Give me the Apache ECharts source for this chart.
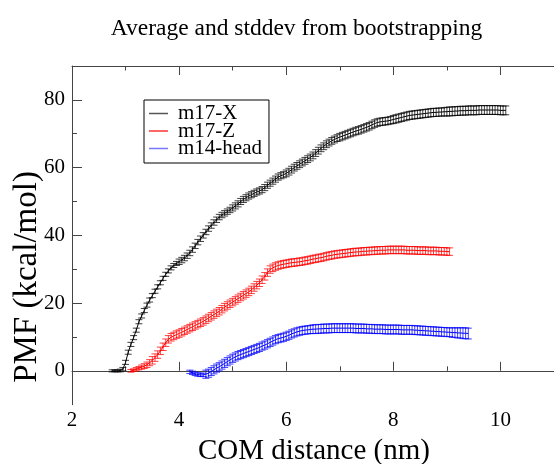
<!DOCTYPE html>
<html>
<head>
<meta charset="utf-8">
<script src="https://cdn.jsdelivr.net/npm/echarts@6/dist/echarts.min.js"></script>
<style>html,body{margin:0;padding:0;background:#fff}#c{width:554px;height:464px}</style>
</head>
<body>
<div id="c"></div>
<script>
// ---- data ----
const STEP = 0.05;
const seriesNames = ['m17-X', 'm17-Z', 'm14-head'];
const xTicks = [2, 4, 6, 8, 10];
const xMinorTicks = [3, 5, 7, 9];
const yTicks = [0, 20, 40, 60, 80];
const yMinorTicks = [10, 30, 50, 70];

const blackX0 = 2.75;
const blackY = [
 0,0,0,0.1,0.5, 2.5,5.5,7.8,9.8,12.0,14.5,16.2,17.8,19.4,20.9,22.2,23.5,24.8,26.0,27.3,28.5,29.5,30.4,31.1,31.7,
 32.2,32.7,33.3,34.0,34.8,35.8,36.9,38.0,39.0,40.0,41.0,42.0,42.9,43.8,44.6,45.4,46.0,46.5,47.0,47.5,
 48.1,48.7,49.3,50.0,50.6,51.1,51.6,52.0,52.4,52.8,53.1,53.5,54.1,54.8,55.4,56.0,56.6,57.2,57.6,57.9,
 58.3,58.8,59.4,60.0,60.5,61.0,61.5,62.0,62.5,63.0,63.6,64.3,65.0,65.7,66.3,66.9,67.4,67.9,68.3,68.7,
 69.0,69.3,69.6,69.9,70.2,70.5,70.8,71.0,71.3,71.6,71.9,72.2,72.6,73.0,73.3,73.5,73.6,73.7,73.8,74.0,
 74.2,74.4,74.6,74.8,75.0,75.2,75.4,75.5,75.6,75.7,75.8,75.9,76.0,76.1,76.2,76.3,76.3,76.4,76.4,76.5,
 76.5,76.6,76.6,76.7,76.7,76.8,76.8,76.8,76.9,76.9,76.9,76.9,77.0,77.0,77.0,77.0,77.0,77.0,77.0,77.0,76.9,76.9,76.9
];
const blackErr = [
 0.3,0.3,0.3,0.4,0.5,
 0.6,0.6,0.6,0.6,0.6,0.6,0.6,0.6,0.6,0.6,0.6,0.6,0.6,0.6,0.6,0.6,0.6,0.6,0.6,0.6,
 0.8,0.8,0.8,0.8,0.8,0.8,0.8,0.8,0.8,0.8,0.8,0.8,0.8,0.8,0.8,0.8,0.8,0.8,0.8,0.8,
 0.9,0.9,0.9,0.9,0.9,0.9,0.9,0.9,0.9,0.9,0.9,0.9,0.9,0.9,0.9,0.9,0.9,0.9,0.9,0.9,
 1.0,1.0,1.0,1.0,1.0,1.0,1.0,1.0,1.0,1.0,1.0,1.0,1.0,1.0,1.0,1.0,1.0,1.0,1.0,1.0,
 1.1,1.1,1.1,1.1,1.1,1.1,1.1,1.1,1.1,1.1,1.1,1.1,1.1,1.1,1.1,1.1,1.1,1.1,1.1,1.1,
 1.2,1.2,1.2,1.2,1.2,1.2,1.2,1.2,1.2,1.2,1.2,1.2,1.2,1.2,1.2,1.2,1.2,1.2,1.2,1.2,
 1.3,1.3,1.3,1.3,1.3,1.3,1.3,1.3,1.3,1.3,1.3,1.3,1.3,1.3,1.3,1.3,1.3,1.3,1.3,1.3,1.3,1.3,1.3
];

const redX0 = 3.10;
const redY = [
 0.0,0.2,0.5,0.8,1.1,1.4,1.8,2.4,3.1,3.9,4.8,5.9,7.1,8.3,9.3,9.9,10.3,10.7,
 11.0,11.4,11.8,12.2,12.6,13.0,13.4,13.8,14.2,14.6,15.1,15.6,16.1,16.6,17.1,17.6,18.2,18.8,19.3,19.8,
 20.3,20.8,21.3,21.8,22.3,22.8,23.3,23.9,24.6,25.3,26.0,26.9,27.9,29.0,29.9,30.4,30.8,31.1,31.3,31.5,
 31.6,31.8,31.9,32.0,32.1,32.2,32.3,32.5,32.6,32.8,33.0,33.1,33.3,33.4,33.6,33.8,34.0,34.1,34.3,34.4,
 34.5,34.6,34.7,34.8,34.9,35.0,35.1,35.1,35.2,35.3,35.3,35.4,35.4,35.5,35.5,35.6,35.6,35.6,35.7,35.7,
 35.7,35.7,35.7,35.7,35.7,35.6,35.6,35.6,35.6,35.5,35.5,35.5,35.5,35.4,35.4,35.4,35.4,35.3,35.3,35.3,35.2,35.2
];
const redErr = [
 0.4,0.4,0.5,0.5,0.6,0.7,0.8,0.9,
 1.1,1.1,1.1,1.1,1.1,1.1,1.1,1.1,1.1,1.1,1.1,1.1,1.1,1.1,1.1,1.1,1.1,1.1,1.1,1.1,1.1,1.1,1.1,
 1.1,1.1,1.1,1.1,1.1,1.1,1.1,1.1,1.1,1.1,1.1,1.1,1.1,1.1,1.1,1.1,1.1,1.1,1.1,1.1,1.1,1.1,1.1,
 1.1,1.1,1.1,1.1,1.1,1.1,1.1,1.1,1.1,1.1,1.1,1.1,1.1,1.1,1.1,1.1,1.1,1.1,1.1,1.1,1.1,1.1,
 1.1,1.1,1.1,1.1,1.1,1.1,1.1,1.1,1.1,1.1,1.1,1.1,1.1,1.1,1.1,1.1,1.1,1.1,1.1,1.1,1.1,1.1,
 1.1,1.1,1.1,1.1,1.1,1.1,1.1,1.1,1.1,1.1,1.1,1.1,1.1,1.1,1.1,1.1,1.1,1.1,1.1,1.1,1.1,1.1
];

const blueX0 = 4.20;
const blueY = [
 -0.3,-0.6,-0.9,-1.1,-1.2,-1.2,-1.0,-0.7,-0.2,0.3,0.8,1.2,1.7,2.2,2.7,3.2,
 3.7,4.1,4.5,4.8,5.1,5.4,5.7,6.0,6.3,6.6,6.9,7.3,7.6,8.0,8.4,8.8,9.2,9.5,9.7,9.9,
 10.2,10.5,10.9,11.2,11.5,11.7,11.9,12.0,12.1,12.2,12.3,12.3,12.4,12.4,12.5,12.5,12.5,12.6,12.6,12.6,
 12.6,12.6,12.6,12.6,12.6,12.6,12.5,12.5,12.5,12.5,12.4,12.4,12.4,12.3,12.3,12.3,12.3,12.2,12.2,12.2,
 12.2,12.2,12.2,12.1,12.1,12.1,12.1,12.1,12.0,12.0,11.9,11.9,11.8,11.8,11.7,11.7,11.6,11.6,11.5,11.5,
 11.4,11.4,11.3,11.3,11.2,11.2,11.1,11.1,11.0
];
const blueErr = [
 0.5,0.5,0.5,0.5,0.5,0.5,
 1.2,1.2,1.2,1.2,1.2,1.2,1.2,1.2,1.2,1.2,1.2,1.2,1.2,1.2,1.2,1.2,1.2,1.2,1.2,1.2,
 1.2,1.2,1.2,1.2,1.2,1.2,1.2,1.2,1.2,1.2,1.2,1.2,1.2,1.2,1.2,1.2,1.2,1.2,1.2,1.2,
 1.3,1.3,1.3,1.3,1.3,1.3,1.3,1.3,1.3,1.3,1.3,1.3,1.3,1.3,1.3,1.3,1.3,1.3,1.3,1.3,
 1.3,1.3,1.3,1.3,1.3,1.3,1.3,1.3,1.3,1.3,1.3,1.3,1.3,1.3,1.3,1.3,1.3,1.3,1.3,1.3,
 1.3,1.3,1.3,1.3,1.3,1.3,1.3,1.3,1.3,1.3,1.3,1.3,1.4,1.4,1.5,1.5,1.6,1.6,1.6
];

// ---- build ----
function pts(x0, ys, es) {
  return ys.map((y, i) => [+(x0 + i * STEP).toFixed(2), y, es[i]]);
}
const groups = [
  { name: seriesNames[0], color: '#000000', data: pts(blackX0, blackY, blackErr) },
  { name: seriesNames[1], color: '#ff0000', data: pts(redX0, redY, redErr) },
  { name: seriesNames[2], color: '#0000ff', data: pts(blueX0, blueY, blueErr) }
];
const FONT = 'Liberation Serif';
const AX = '#444';

function errSeries(g) {
  return {
    type: 'custom', name: g.name, xAxisIndex: 0, yAxisIndex: 0, clip: true,
    data: g.data, encode: { x: 0, y: 1 },
    renderItem: function (params, api) {
      const x = api.value(0), y = api.value(1), e = api.value(2);
      const t = api.coord([x, y + e]), b = api.coord([x, y - e]);
      const hw = 3.5;
      const st = { stroke: g.color, lineWidth: 1, opacity: 0.75 };
      return { type: 'group', children: [
        { type: 'line', shape: { x1: t[0], y1: t[1], x2: b[0], y2: b[1] }, style: st },
        { type: 'line', shape: { x1: t[0] - hw, y1: t[1], x2: t[0] + hw, y2: t[1] }, style: st },
        { type: 'line', shape: { x1: b[0] - hw, y1: b[1], x2: b[0] + hw, y2: b[1] }, style: st }
      ]};
    }
  };
}
function lineSeries(g) {
  return {
    type: 'line', name: g.name, xAxisIndex: 0, yAxisIndex: 0,
    data: g.data.map(d => [d[0], d[1]]), showSymbol: false, symbol: 'none',
    lineStyle: { color: g.color, width: 1 }, itemStyle: { color: g.color }
  };
}

function xAx(pos, ticks, len, showLine, labels) {
  return {
    type: 'value', min: 2, max: 11, position: pos,
    axisLine: { show: showLine, lineStyle: { color: AX, width: 1 } },
    axisTick: { show: true, inside: true, length: len, customValues: ticks, lineStyle: { color: AX } },
    axisLabel: labels ? { show: true, customValues: ticks, fontFamily: FONT, fontSize: 21, color: '#000', margin: 5 } : { show: false },
    splitLine: { show: false }
  };
}
function yAx(ticks, len, showLine, labels) {
  return {
    type: 'value', min: -10, max: 90, position: 'left',
    axisLine: { show: showLine, lineStyle: { color: AX, width: 1 } },
    axisTick: { show: true, inside: true, length: len, customValues: ticks, lineStyle: { color: AX } },
    axisLabel: labels ? { show: true, customValues: ticks, fontFamily: FONT, fontSize: 21, color: '#000', margin: 7 } : { show: false },
    splitLine: { show: false }
  };
}

const chart = echarts.init(document.getElementById('c'));
chart.setOption({
  animation: false,
  backgroundColor: '#fff',
  grid: { left: 72, right: -3.7, top: 66, bottom: 59.3, containLabel: false },
  xAxis: [
    xAx('bottom', xTicks, 9, true, true),
    xAx('bottom', xMinorTicks, 4.5, false, false),
    xAx('top', xTicks, 9, true, false),
    xAx('top', xMinorTicks, 4.5, false, false)
  ],
  yAxis: [
    yAx(yTicks, 10, true, true),
    yAx(yMinorTicks, 5, false, false)
  ],
  legend: {
    orient: 'vertical', left: 144, top: 100,
    backgroundColor: '#fff', borderColor: '#000', borderWidth: 1, borderRadius: 0,
    padding: [3, 7, 4, 5], itemGap: -3.5, itemWidth: 19, itemHeight: 1.5,
    textStyle: { fontFamily: FONT, fontSize: 21, color: '#000', padding: [0, 0, 0, 5] },
    data: [
      { name: seriesNames[0], icon: 'rect', itemStyle: { color: '#555' } },
      { name: seriesNames[1], icon: 'rect', itemStyle: { color: '#f33' } },
      { name: seriesNames[2], icon: 'rect', itemStyle: { color: '#77f' } }
    ],
    selectedMode: false
  },
  graphic: [
    { type: 'text', x: 296.5, y: 28.5, style: { text: 'Average and stddev from bootstrapping', font: '23.5px "Liberation Serif"', fill: '#000', textAlign: 'center', textVerticalAlign: 'middle' } },
    { type: 'text', x: 314, y: 451, style: { text: 'COM distance (nm)', font: '29px "Liberation Serif"', fill: '#000', textAlign: 'center', textVerticalAlign: 'middle' } },
    { type: 'text', x: 27, y: 277, rotation: Math.PI / 2, style: { text: 'PMF (kcal/mol)', font: '33px "Liberation Serif"', fill: '#000', textAlign: 'center', textVerticalAlign: 'middle' } }
  ],
  series: groups.map(errSeries).concat(groups.map(lineSeries))
});
</script>
</body>
</html>
